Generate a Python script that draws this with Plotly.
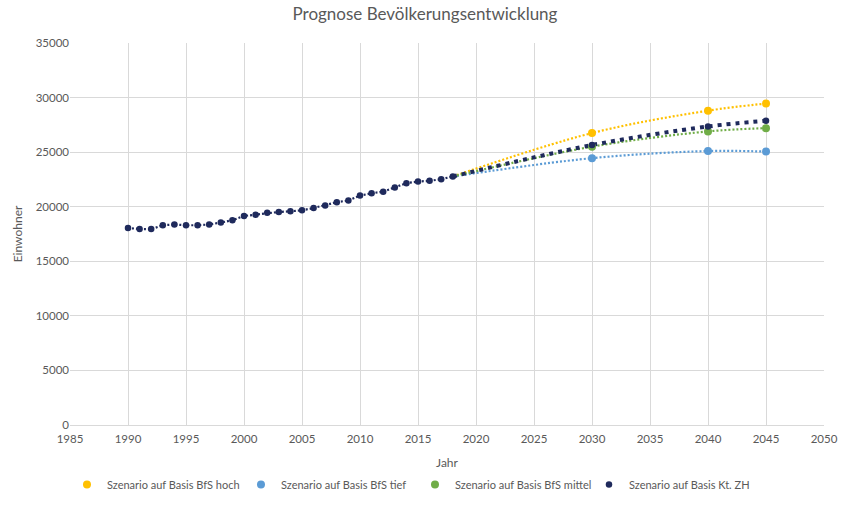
import plotly.graph_objects as go

# ---- data ----
years_hist = list(range(1990, 2019))
kt_zh_hist = [18060, 17950, 17950, 18300, 18370, 18300, 18300, 18370, 18550, 18760,
              19150, 19270, 19450, 19520, 19580, 19670, 19880, 20120, 20420, 20570,
              21020, 21230, 21380, 21770, 22160, 22310, 22370, 22520, 22770]

years_proj = [2030, 2040, 2045]
bfs_hoch = [26750, 28800, 29450]
bfs_tief = [24450, 25100, 25050]
bfs_mittel = [25500, 26900, 27200]
kt_zh_proj = [25650, 27350, 27870]

series_names = ["Szenario auf Basis BfS hoch", "Szenario auf Basis BfS tief",
                "Szenario auf Basis BfS mittel", "Szenario auf Basis Kt. ZH"]
colors = ["#FFC000", "#5B9BD5", "#70AD47", "#1F2A5C"]

x_ticks = list(range(1985, 2051, 5))
y_ticks = list(range(0, 35001, 5000))

FONT = "Lato"
GREY = "#595959"

fig = go.Figure()

# trend lines (scenario projections), anchored at last historic value
base_x = years_hist[-1]
base_y = kt_zh_hist[-1]
for vals, col in zip([bfs_hoch, bfs_tief, bfs_mittel], colors[:3]):
    fig.add_trace(go.Scatter(
        x=[base_x] + years_proj, y=[base_y] + vals, mode="lines",
        line=dict(color=col, width=2.2, dash="2px,2px", shape="spline", smoothing=1.0),
        showlegend=False, hoverinfo="skip"))

# Kt ZH projection trend line (thicker dots)
fig.add_trace(go.Scatter(
    x=[base_x] + years_proj, y=[base_y] + kt_zh_proj, mode="lines",
    line=dict(color=colors[3], width=4, dash="4px,5px", shape="spline", smoothing=1.0),
    showlegend=False, hoverinfo="skip"))

# historic Kt ZH line
fig.add_trace(go.Scatter(
    x=years_hist, y=kt_zh_hist, mode="lines",
    line=dict(color=colors[3], width=2.2, dash="2px,2px"),
    showlegend=False, hoverinfo="skip"))

# scenario markers (legend entries)
for name, vals, col in zip(series_names[:3], [bfs_hoch, bfs_tief, bfs_mittel], colors[:3]):
    fig.add_trace(go.Scatter(
        x=years_proj, y=vals, mode="markers", name=name,
        marker=dict(color=col, size=8)))

fig.add_trace(go.Scatter(
    x=years_hist + years_proj, y=kt_zh_hist + kt_zh_proj, mode="markers",
    name=series_names[3], marker=dict(color=colors[3], size=6.5)))

fig.update_layout(
    width=850, height=511,
    margin=dict(l=70, r=24, t=43, b=78),
    paper_bgcolor="white", plot_bgcolor="white",
    font=dict(family=FONT, color=GREY, size=11),
    title=dict(text="Prognose Bevölkerungsentwicklung", x=0.5, xanchor="center",
               y=0.972, yanchor="middle", font=dict(size=17, color=GREY, family=FONT)),
    xaxis=dict(range=[1985, 2050], tickvals=x_ticks, ticktext=[str(t) for t in x_ticks],
               showgrid=True, gridcolor="#D9D9D9", gridwidth=1,
               showline=True, linecolor="#D9D9D9", zeroline=False,
               ticks="", tickfont=dict(size=11.5, color=GREY), ticklabelstandoff=3,
               title=dict(text="Jahr", font=dict(size=12, color=GREY), standoff=14)),
    yaxis=dict(range=[0, 35000], tickvals=y_ticks, ticktext=[str(t) for t in y_ticks],
               showgrid=True, gridcolor="#D9D9D9", gridwidth=1,
               showline=False, zeroline=False, ticks="",
               tickfont=dict(size=11.5, color=GREY),
               title=dict(text="Einwohner", font=dict(size=12, color=GREY), standoff=10)),
    legend=dict(orientation="h", x=-0.004, xanchor="left", y=-0.118, yanchor="top",
                font=dict(size=11, color=GREY), entrywidth=129, entrywidthmode="pixels",
                itemwidth=30, traceorder="normal"),
)

fig.write_html("out.html")
